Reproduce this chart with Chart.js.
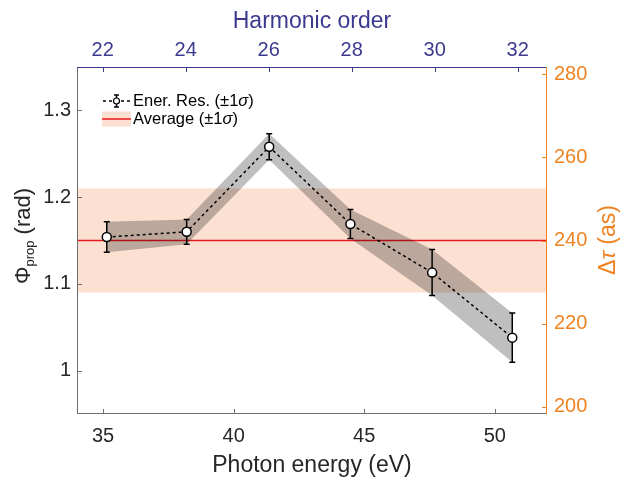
<!DOCTYPE html>
<html lang="en">
<head>
  <meta charset="UTF-8">
  <title>Propagation phase vs photon energy</title>
  <script src="https://cdn.jsdelivr.net/npm/chart.js"></script>
  <style>
    * { margin: 0; padding: 0; box-sizing: border-box; }
    body { background: #fff; width: 622px; height: 477px; overflow: hidden; }
    canvas { display: block; }
  </style>
</head>
<body>
  <canvas id="chart" width="622" height="477"></canvas>

  <script>
    // measured phase per harmonic (rad) and its 1-sigma spread
    const energy = [35.14, 38.2, 41.36, 44.47, 47.6, 50.67];
    const phase = [1.154, 1.160, 1.258, 1.169, 1.113, 1.038];
    const phaseErr = [0.0176, 0.0142, 0.015, 0.0167, 0.0265, 0.0284];

    // energy-averaged value and its spread
    const avgPhase = 1.15;
    const avgErr = 0.06;

    const energyTicks = [35, 40, 45, 50];
    const harmonicTicks = [22, 24, 26, 28, 30, 32];
    const phaseTicks = [1, 1.1, 1.2, 1.3];
    const delayTicks = [200, 220, 240, 260, 280];

    const FONT = "'Liberation Sans', Arial, sans-serif";
    const DARK = '#262626';
    const BLUE = '#3b3a8f';
    const ORANGE = '#ef8322';
    const AXIS_GREY = '#6e6e6e';

    Chart.defaults.font.family = FONT;

    const pts = (ys) => energy.map((e, i) => ({ x: e, y: ys[i] }));
    const flat = (v) => [{ x: 34, y: v }, { x: 52, y: v }];

    const setTicks = (list) => (s) => { s.ticks = list.map(v => ({ value: v })); };

    // runs of text with mixed fonts, laid out left to right
    function drawRuns(ctx, runs, x, y) {
      let cx = x;
      runs.forEach(r => {
        ctx.font = r.font;
        ctx.fillText(r.t, cx, y + (r.dy || 0));
        cx += ctx.measureText(r.t).width;
      });
      return cx - x;
    }
    function runsWidth(ctx, runs) {
      let w = 0;
      runs.forEach(r => { ctx.font = r.font; w += ctx.measureText(r.t).width; });
      return w;
    }

    const decorations = {
      id: 'decorations',
      beforeDatasetDraw(chart, args) {
        if (args.index !== 0) return;
        // error bars sit under the dotted line and markers
        const { ctx, scales: { x, y } } = chart;
        ctx.save();
        ctx.strokeStyle = '#000';
        ctx.lineWidth = 1.5;
        energy.forEach((e, i) => {
          const px = x.getPixelForValue(e);
          const top = y.getPixelForValue(phase[i] + phaseErr[i]);
          const bot = y.getPixelForValue(phase[i] - phaseErr[i]);
          ctx.beginPath();
          ctx.moveTo(px, top); ctx.lineTo(px, bot);
          ctx.moveTo(px - 3, top); ctx.lineTo(px + 3, top);
          ctx.moveTo(px - 3, bot); ctx.lineTo(px + 3, bot);
          ctx.stroke();
        });
        ctx.restore();
      },
      afterDraw(chart) {
        const { ctx, chartArea: a, scales } = chart;
        ctx.save();

        // frame
        ctx.lineWidth = 1;
        const line = (x1, y1, x2, y2, c) => {
          ctx.strokeStyle = c;
          ctx.beginPath(); ctx.moveTo(x1, y1); ctx.lineTo(x2, y2); ctx.stroke();
        };
        line(a.left + 0.5, a.top, a.left + 0.5, a.bottom, AXIS_GREY);
        line(a.left, a.bottom - 0.5, a.right, a.bottom - 0.5, AXIS_GREY);
        line(a.left, a.top + 0.5, a.right, a.top + 0.5, BLUE);
        line(a.right - 0.5, a.top, a.right - 0.5, a.bottom, ORANGE);

        // inward tick marks
        const TL = 5;
        scales.x.ticks.forEach(t => {
          const p = Math.round(scales.x.getPixelForValue(t.value)) + 0.5;
          line(p, a.bottom, p, a.bottom - TL, AXIS_GREY);
        });
        scales.x2.ticks.forEach(t => {
          const p = Math.round(scales.x2.getPixelForValue(t.value)) + 0.5;
          line(p, a.top, p, a.top + TL, BLUE);
        });
        scales.y.ticks.forEach(t => {
          const p = Math.round(scales.y.getPixelForValue(t.value)) + 0.5;
          line(a.left, p, a.left + TL, p, AXIS_GREY);
        });
        scales.y2.ticks.forEach(t => {
          const p = Math.round(scales.y2.getPixelForValue(t.value)) + 0.5;
          line(a.right, p, a.right - TL, p, ORANGE);
        });

        // left axis title, rotated, with subscript
        ctx.fillStyle = DARK;
        ctx.textBaseline = 'alphabetic';
        const leftRuns = [
          { t: 'Φ', font: `22px ${FONT}` },
          { t: 'prop', font: `13px ${FONT}`, dy: 4 },
          { t: ' (rad)', font: `22px ${FONT}` }
        ];
        ctx.save();
        ctx.translate(30, 236);
        ctx.rotate(-Math.PI / 2);
        drawRuns(ctx, leftRuns, -runsWidth(ctx, leftRuns) / 2, 0);
        ctx.restore();

        // right axis title
        ctx.fillStyle = ORANGE;
        const rightRuns = [
          { t: 'Δ', font: `23px ${FONT}` },
          { t: 'τ', font: `italic 23px ${FONT}` },
          { t: ' (as)', font: `23px ${FONT}` }
        ];
        ctx.save();
        ctx.translate(615, 240);
        ctx.rotate(-Math.PI / 2);
        drawRuns(ctx, rightRuns, -runsWidth(ctx, rightRuns) / 2, 0);
        ctx.restore();

        // legend
        const lx0 = 103, lx1 = 130, tx = 133;
        const ly1 = 101, ly2 = 119;
        ctx.strokeStyle = '#000';
        ctx.lineWidth = 1.5;
        ctx.setLineDash([3, 3]);
        ctx.beginPath(); ctx.moveTo(lx0, ly1); ctx.lineTo(lx1, ly1); ctx.stroke();
        ctx.setLineDash([]);
        const mx = (lx0 + lx1) / 2;
        ctx.beginPath();
        ctx.moveTo(mx, ly1 - 6); ctx.lineTo(mx, ly1 + 6);
        ctx.moveTo(mx - 2.5, ly1 - 6); ctx.lineTo(mx + 2.5, ly1 - 6);
        ctx.moveTo(mx - 2.5, ly1 + 6); ctx.lineTo(mx + 2.5, ly1 + 6);
        ctx.stroke();
        ctx.fillStyle = '#fff';
        ctx.lineWidth = 1.2;
        ctx.beginPath(); ctx.arc(mx, ly1, 3, 0, Math.PI * 2); ctx.fill(); ctx.stroke();

        ctx.fillStyle = 'rgba(242, 130, 70, 0.25)';
        ctx.fillRect(lx0 - 1, ly2 - 7.5, lx1 - lx0 + 2, 15);
        ctx.strokeStyle = '#e8191c';
        ctx.lineWidth = 1.5;
        ctx.beginPath(); ctx.moveTo(lx0 - 1, ly2); ctx.lineTo(lx1 + 1, ly2); ctx.stroke();

        ctx.fillStyle = '#000';
        ctx.textBaseline = 'middle';
        const f = `16.5px ${FONT}`, fi = `italic 16.5px ${FONT}`;
        drawRuns(ctx, [{ t: 'Ener. Res. (±1', font: f }, { t: 'σ', font: fi }, { t: ')', font: f }], tx, ly1);
        drawRuns(ctx, [{ t: 'Average (±1', font: f }, { t: 'σ', font: fi }, { t: ')', font: f }], tx, ly2);

        ctx.restore();
      }
    };

    new Chart(document.getElementById('chart'), {
      type: 'line',
      data: {
        datasets: [
          {
            label: 'Ener. Res.',
            data: pts(phase),
            borderColor: '#000',
            borderWidth: 1.5,
            borderDash: [3, 3],
            pointRadius: 4.5,
            pointBackgroundColor: '#fff',
            pointBorderColor: '#000',
            pointBorderWidth: 1.5,
            fill: false,
            order: 0
          },
          {
            label: 'band hi',
            data: pts(phase.map((v, i) => v + phaseErr[i])),
            borderWidth: 0,
            pointRadius: 0,
            backgroundColor: 'rgba(0, 0, 0, 0.25)',
            fill: '+1',
            order: 1
          },
          {
            label: 'band lo',
            data: pts(phase.map((v, i) => v - phaseErr[i])),
            borderWidth: 0,
            pointRadius: 0,
            fill: false,
            order: 1
          },
          {
            label: 'Average',
            data: flat(avgPhase),
            borderColor: '#e8191c',
            borderWidth: 1.5,
            pointRadius: 0,
            fill: false,
            order: 2
          },
          {
            label: 'avg hi',
            data: flat(avgPhase + avgErr),
            borderWidth: 0,
            pointRadius: 0,
            backgroundColor: 'rgba(242, 130, 70, 0.25)',
            fill: '+1',
            order: 3
          },
          {
            label: 'avg lo',
            data: flat(avgPhase - avgErr),
            borderWidth: 0,
            pointRadius: 0,
            fill: false,
            order: 3
          }
        ]
      },
      options: {
        responsive: false,
        animation: false,
        events: [],
        layout: { padding: 0 },
        plugins: { legend: { display: false }, tooltip: { enabled: false } },
        scales: {
          x: {
            type: 'linear', position: 'bottom', min: 34, max: 52, bounds: 'data',
            afterBuildTicks: setTicks(energyTicks),
            afterFit: s => { s.height = 63; },
            grid: { display: false, drawTicks: false },
            border: { display: false },
            ticks: { color: DARK, font: { size: 20 }, padding: 10, maxRotation: 0, autoSkip: false, callback: v => String(v) },
            title: { display: true, text: 'Photon energy (eV)', color: DARK, font: { size: 23, lineHeight: 1 }, padding: { top: 0, bottom: 0 } }
          },
          x2: {
            type: 'linear', position: 'top', min: 21.38, max: 32.705, bounds: 'data',
            afterBuildTicks: setTicks(harmonicTicks),
            afterFit: s => { s.height = 67; },
            grid: { display: false, drawTicks: false },
            border: { display: false },
            ticks: { color: BLUE, font: { size: 20 }, padding: 5, maxRotation: 0, autoSkip: false, callback: v => String(v) },
            title: { display: true, text: 'Harmonic order', color: BLUE, font: { size: 23 }, padding: { top: 8, bottom: 0 } }
          },
          y: {
            type: 'linear', position: 'left', min: 0.95, max: 1.35, bounds: 'data',
            afterBuildTicks: setTicks(phaseTicks),
            afterFit: s => { s.width = 77; },
            grid: { display: false, drawTicks: false },
            border: { display: false },
            ticks: { color: DARK, font: { size: 20 }, padding: 6, autoSkip: false, callback: v => String(v) }
          },
          y2: {
            type: 'linear', position: 'right', min: 198.3, max: 281.7, bounds: 'data',
            afterBuildTicks: setTicks(delayTicks),
            afterFit: s => { s.width = 75; },
            grid: { display: false, drawTicks: false },
            border: { display: false },
            ticks: { color: ORANGE, font: { size: 20 }, padding: 7, autoSkip: false, callback: v => String(v) }
          }
        }
      },
      plugins: [decorations]
    });
  </script>
</body>
</html>
